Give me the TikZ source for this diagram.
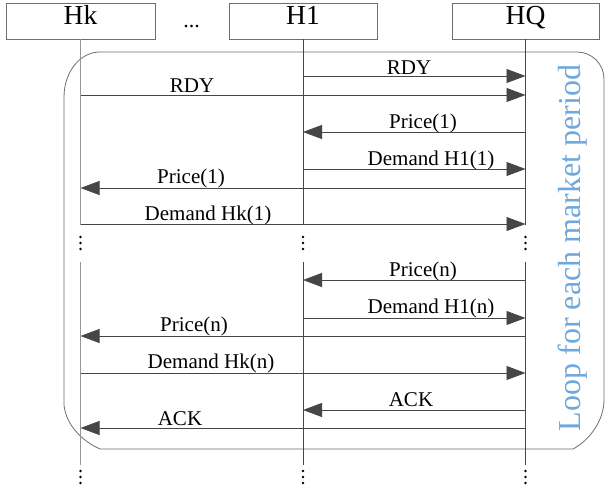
\documentclass[tikz,border=0pt]{standalone}
\usepackage{fontspec}
\setmainfont{Liberation Serif}
\usetikzlibrary{arrows.meta}
\definecolor{loopblue}{RGB}{111,168,220}
\definecolor{linegray}{RGB}{70,70,70}
\definecolor{lightline}{RGB}{150,150,150}
\definecolor{boxgray}{RGB}{110,110,110}
\begin{document}
\begin{tikzpicture}[x=1pt,y=-1pt,
  hbox/.style={draw=boxgray, line width=0.8pt, minimum height=36pt, inner sep=0pt,
    font=\fontsize{27.5}{30}\selectfont, text height=0.66em, text depth=0pt},
  life/.style={draw=linegray, line width=0.8pt},
  lifelight/.style={draw=lightline, line width=0.9pt},
  msg/.style={draw=linegray, line width=0.8pt, -{Triangle[length=19pt,width=14pt]}},
  lbl/.style={font=\fontsize{21}{24}\selectfont, anchor=base, inner sep=0pt},
  loopframe/.style={draw=boxgray, line width=0.8pt}]
\useasboundingbox (0,0) rectangle (605,490);
\fill[white] (0,0) rectangle (605,490);
% header boxes
\node[hbox, minimum width=149pt] (Hk) at (80.5,21) {Hk};
\node[hbox, minimum width=148pt] (H1) at (303,21) {H1};
\node[hbox, minimum width=147pt] (HQ) at (525.5,21) {HQ};
\node[font=\fontsize{22}{24}\selectfont, anchor=base, inner sep=0pt] (dd) at (191.5,27) {...};
% loop frame
\draw[loopframe] (100,52) -- (577,52) .. controls (592,52) and (604,64) .. (604,79)
  -- (604,400) .. controls (604,420) and (590,440) .. (573,449) -- (100,449)
  .. controls (82,441) and (66,425) .. (64,405) -- (64,97)
  .. controls (64,72) and (80,52) .. (100,52) -- cycle;
\node[rotate=90, anchor=base, text=loopblue, font=\fontsize{32}{36}\selectfont, inner sep=0pt]
  (loop) at (580,248) {Loop for each market period};
% lifelines
\draw[lifelight] (Hk.south) -- (Hk |- 0,225);
\draw[lifelight] (Hk |- 0,262) -- (Hk |- 0,465);
\draw[life] (H1.south) -- (H1 |- 0,225);
\draw[life] (H1 |- 0,262) -- (H1 |- 0,465);
\draw[life] (HQ.south) -- (HQ |- 0,225);
\draw[life] (HQ |- 0,262) -- (HQ |- 0,465);
\foreach \n in {Hk,H1,HQ}{
  \foreach \y in {237,243,249,471,477,483}{
    \fill (\n |- 0,\y) circle (1.4pt);
  }
}
% messages
\draw[msg] (H1 |- 0,76) -- (HQ |- 0,76);
\node[lbl] (l1) at (409,74) {RDY};
\draw[msg] (Hk |- 0,95) -- (HQ |- 0,95);
\node[lbl] (l2) at (192,92) {RDY};
\draw[msg] (HQ |- 0,132) -- (H1 |- 0,132);
\node[lbl] (l3) at (423,128) {Price(1)};
\draw[msg] (H1 |- 0,169) -- (HQ |- 0,169);
\node[lbl] (l4) at (431,165) {Demand H1(1)};
\draw[msg] (HQ |- 0,188) -- (Hk |- 0,188);
\node[lbl] (l5) at (191,183) {Price(1)};
\draw[msg] (Hk |- 0,224) -- (HQ |- 0,224);
\node[lbl] (l6) at (208,220) {Demand Hk(1)};
\draw[msg] (HQ |- 0,280) -- (H1 |- 0,280);
\node[lbl] (l7) at (423,276) {Price(n)};
\draw[msg] (H1 |- 0,318) -- (HQ |- 0,318);
\node[lbl] (l8) at (431,313) {Demand H1(n)};
\draw[msg] (HQ |- 0,336) -- (Hk |- 0,336);
\node[lbl] (l9) at (194,331) {Price(n)};
\draw[msg] (Hk |- 0,373) -- (HQ |- 0,373);
\node[lbl] (l10) at (211,368) {Demand Hk(n)};
\draw[msg] (HQ |- 0,410) -- (H1 |- 0,410);
\node[lbl] (l11) at (411,406) {ACK};
\draw[msg] (HQ |- 0,428) -- (Hk |- 0,428);
\node[lbl] (l12) at (180,425) {ACK};
\end{tikzpicture}
\end{document}
